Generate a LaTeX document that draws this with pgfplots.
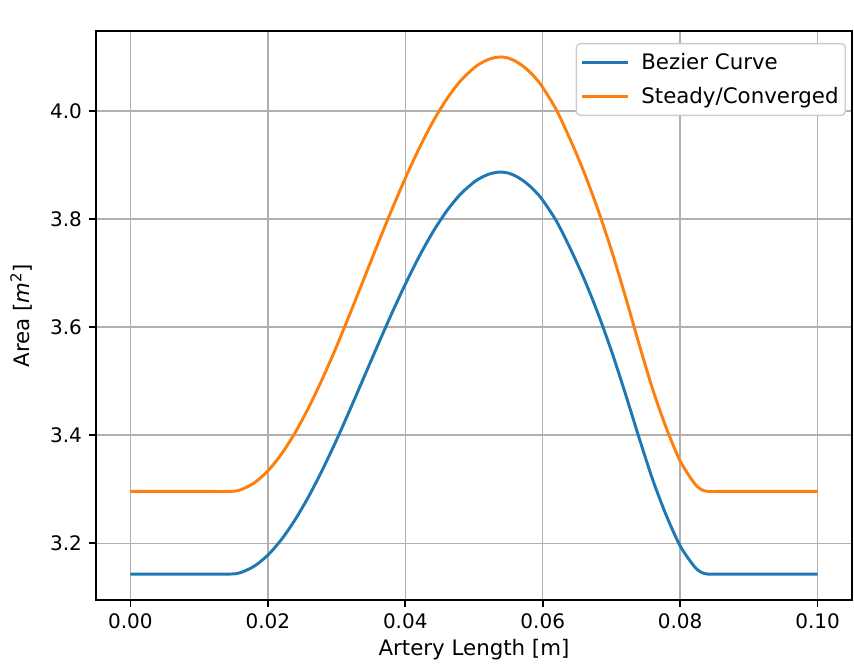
\documentclass[border=0pt]{standalone}
\usepackage{fontspec}
\setmainfont{DejaVu Sans}
\usepackage{pgfplots}
\pgfplotsset{compat=1.18}
\definecolor{c0}{HTML}{1F77B4}
\definecolor{c1}{HTML}{FF7F0E}
\pgfplotstableread{
x blue orange
0.000 3.1430 3.2960
0.005 3.1430 3.2960
0.010 3.1430 3.2960
0.0145 3.1430 3.2960
0.016 3.1456 3.2988
0.018 3.1574 3.3115
0.020 3.1780 3.3339
0.022 3.2073 3.3655
0.024 3.2442 3.4053
0.026 3.2879 3.4526
0.028 3.3374 3.5061
0.030 3.3912 3.5642
0.032 3.4486 3.6263
0.034 3.5076 3.6900
0.036 3.5666 3.7538
0.038 3.6244 3.8162
0.040 3.6792 3.8754
0.042 3.7301 3.9304
0.044 3.7756 3.9796
0.046 3.8144 4.0215
0.048 3.8456 4.0552
0.050 3.8683 4.0797
0.051 3.8763 4.0885
0.052 3.8823 4.0949
0.053 3.8858 4.0987
0.054 3.8870 4.1000
0.055 3.8850 4.0978
0.056 3.8800 4.0924
0.057 3.8724 4.0842
0.058 3.8625 4.0736
0.059 3.8500 4.0602
0.060 3.8349 4.0437
0.062 3.7960 4.0016
0.064 3.7456 3.9472
0.066 3.6898 3.8869
0.068 3.6266 3.8186
0.070 3.5559 3.7422
0.072 3.4778 3.6578
0.074 3.3960 3.5694
0.076 3.3178 3.4849
0.078 3.2509 3.4126
0.080 3.1951 3.3523
0.082 3.1579 3.3121
0.083 3.1467 3.3000
0.084 3.1430 3.2960
0.086 3.1430 3.2960
0.090 3.1430 3.2960
0.095 3.1430 3.2960
0.100 3.1430 3.2960
}\datatab
\begin{document}
\fontsize{15}{18}\selectfont
\begin{tikzpicture}
\path[use as bounding box] (-72pt,-51.75pt) rectangle (568.5pt,450pt);
\begin{axis}[at={(0,0)}, anchor=south west, scale only axis,
  width=567pt, height=426.75pt,
  xmin=-0.005, xmax=0.105, ymin=3.095, ymax=4.148,
  xtick={0,0.02,0.04,0.06,0.08,0.1},
  ytick={3.2,3.4,3.6,3.8,4.0},
  xticklabel style={/pgf/number format/.cd, fixed, fixed zerofill, precision=2},
  yticklabel style={/pgf/number format/.cd, fixed, fixed zerofill, precision=1},
  /pgf/number format/assume math mode=true,
  scaled ticks=false,
  tick align=outside, tick pos=left, major tick length=5.4pt,
  grid=major, grid style={color=black!31, line width=1.1pt},
  axis line style={line width=1.2pt},
  every tick/.style={black, line width=1.2pt},
  xlabel={Artery Length [m]}, ylabel={Area [{\itshape m}\textsuperscript{2}]},
  label style={font=\fontsize{16}{19}\selectfont},
  xlabel style={yshift=3pt},
  ylabel style={yshift=3pt},
  legend style={at={(0.992,0.979)}, anchor=north east, draw=black!20,
    rounded corners=3pt, line width=1pt, inner xsep=3pt, inner ysep=5pt,
    row sep=7pt, font=\fontsize{16}{19}\selectfont,
    /tikz/every odd column/.append style={column sep=7pt}},
  legend cell align=left,
  legend image code/.code={\draw[#1] (0pt,0pt) -- (34.5pt,0pt);},
]
\addplot[c0, line width=2.2pt, smooth] table[x=x, y=blue] {\datatab};
\addlegendentry{Bezier Curve}
\addplot[c1, line width=2.2pt, smooth] table[x=x, y=orange] {\datatab};
\addlegendentry{Steady/Converged}
\node[anchor=south west, inner sep=0pt, yshift=6pt] at (rel axis cs:0,1) {1e$-$4};
\end{axis}
\end{tikzpicture}
\end{document}
